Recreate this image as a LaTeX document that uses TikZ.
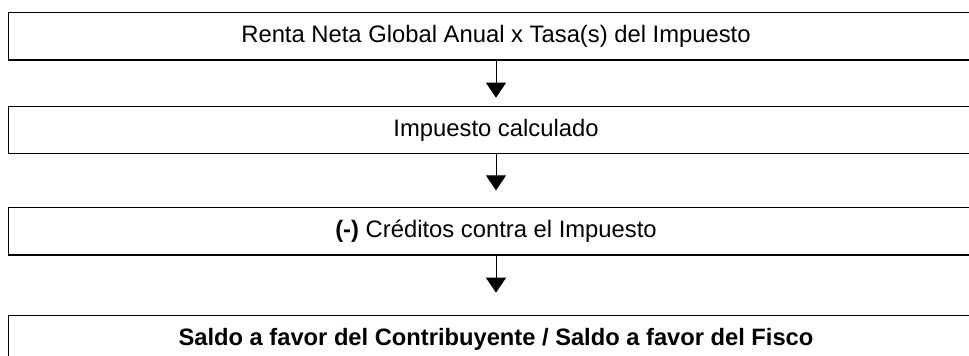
\documentclass[tikz,border=0pt]{standalone}
\usepackage{fontspec}
\setmainfont{Liberation Sans}
\usetikzlibrary{arrows.meta}
\begin{document}
\begin{tikzpicture}[x=1pt,y=-1pt,
  flowbox/.style={draw=black,line width=1.2pt,rectangle,minimum width=975pt,minimum height=47.5pt,inner sep=0pt,font=\fontsize{23.8}{28}\selectfont},
  flowarrow/.style={draw=black,line width=1pt,-{Triangle[length=15pt,width=20pt]}}]
\useasboundingbox (0,0) rectangle (969,356);
\clip (0,0) rectangle (969,356);
\fill[white] (0,0) rectangle (969,356);
\node[flowbox] (a) at (496,36.25) {Renta Neta Global Anual x Tasa(s) del Impuesto};
\node[flowbox] (b) at (496,130) {Impuesto calculado};
\node[flowbox] (c) at (496,231.25) {\textbf{(-)} Créditos contra el Impuesto};
\node[flowbox,font=\fontsize{23.7}{28}\selectfont] (d) at (496,339) {\textbf{Saldo a favor del Contribuyente / Saldo a favor del Fisco}};
\draw[flowarrow,shorten >=8pt] (a.south) -- (b.north);
\draw[flowarrow,shorten >=16.5pt] (b.south) -- (c.north);
\draw[flowarrow,shorten >=22pt] (c.south) -- (d.north);
\end{tikzpicture}
\end{document}
